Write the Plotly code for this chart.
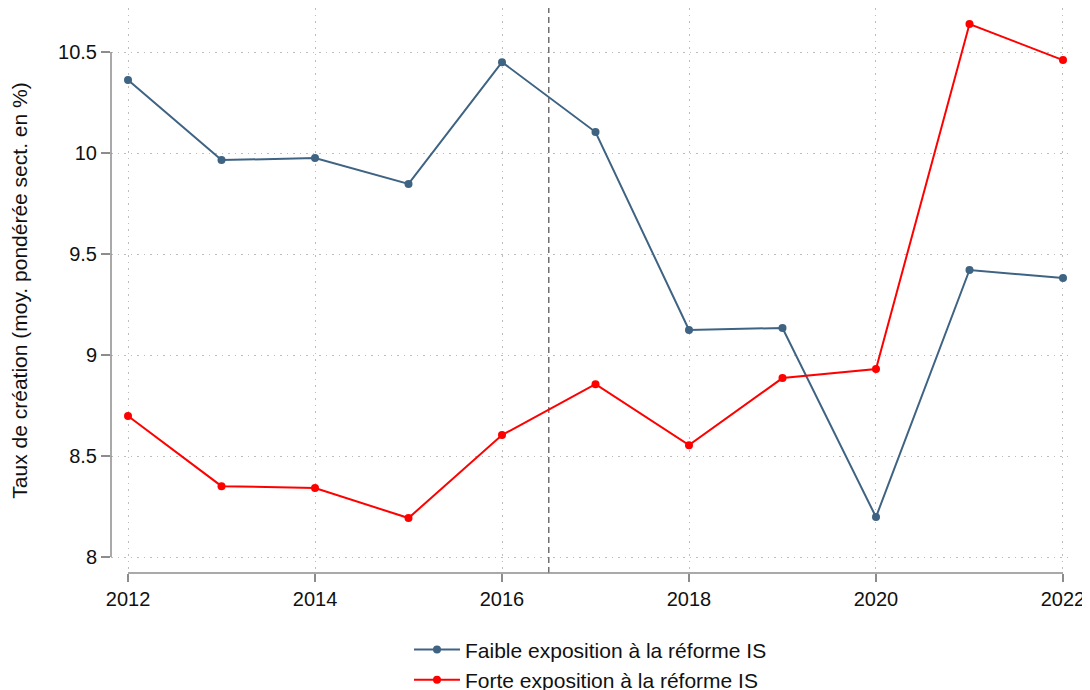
import plotly.graph_objects as go

years = [2012, 2013, 2014, 2015, 2016, 2017, 2018, 2019, 2020, 2021, 2022]
faible = [10.361, 9.965, 9.975, 9.847, 10.45, 10.104, 9.124, 9.134, 8.198, 9.421, 9.381]
forte = [8.698, 8.351, 8.342, 8.193, 8.604, 8.856, 8.554, 8.886, 8.931, 10.639, 10.46]
x_ticks = [2012, 2014, 2016, 2018, 2020, 2022]
y_ticks = [8, 8.5, 9, 9.5, 10, 10.5]
y_labels = ["8", "8.5", "9", "9.5", "10", "10.5"]
reform_year = 2016.5
names = ["Faible exposition à la réforme IS", "Forte exposition à la réforme IS"]
colors = ["#3e6383", "#ff0000"]

fig = go.Figure()
for i, (vals, name, col) in enumerate(zip([faible, forte], names, colors)):
    fig.add_trace(go.Scatter(x=years, y=vals, mode="lines+markers", name=name,
                             legendgroup=f"g{i}",
                             line=dict(color=col, width=2), marker=dict(color=col, size=8)))

fig.add_shape(type="line", xref="x", yref="paper", x0=reform_year, x1=reform_year, y0=0, y1=1,
              line=dict(color="#707070", width=1.5, dash="6px,4px"), layer="below")
# Stata-style axis lines spanning the tick range only
fig.add_shape(type="line", xref="x", yref="paper", x0=x_ticks[0], x1=x_ticks[-1], y0=0, y1=0,
              line=dict(color="#8c8c8c", width=1.5))
fig.add_shape(type="line", xref="paper", yref="y", x0=0, x1=0, y0=y_ticks[0], y1=y_ticks[-1],
              line=dict(color="#8c8c8c", width=1.5))

fig.update_layout(
    width=1082, height=682,
    margin=dict(l=103, r=20, t=0, b=117, autoexpand=False),
    plot_bgcolor="white", paper_bgcolor="white",
    font=dict(family="Liberation Sans, Arial", size=20, color="#111"),
    showlegend=True,
    legend=dict(orientation="v", x=0.5, xanchor="center", xref="paper",
                yref="container", y=0.089, yanchor="top",
                font=dict(size=21), traceorder="grouped", tracegroupgap=0, itemwidth=46),
    xaxis=dict(range=[2011.818, 2022.075], tickvals=x_ticks, showgrid=True,
               gridcolor="#bdbdbd", griddash="1.5px,5px", gridwidth=1.2, zeroline=False,
               showline=False, ticks="outside", ticklen=8, tickcolor="#8c8c8c", tickwidth=1.5),
    yaxis=dict(range=[7.921, 10.718], tickvals=y_ticks, ticktext=y_labels, showgrid=True,
               gridcolor="#bdbdbd", griddash="1.5px,5px", gridwidth=1.2, zeroline=False,
               showline=False, ticks="outside", ticklen=9, tickcolor="#8c8c8c", tickwidth=1.5,
               title=dict(text="Taux de création (moy. pondérée sect. en %)", font=dict(size=21),
                          standoff=26)),
)
fig.write_html("out.html")
